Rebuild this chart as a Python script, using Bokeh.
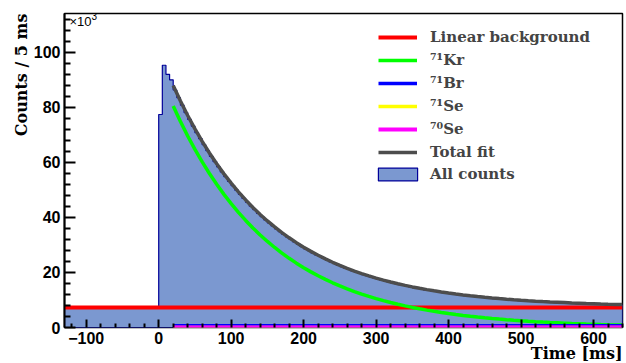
from bokeh.plotting import figure
from bokeh.models import Range1d, FixedTicker, Label, Legend, LegendItem, Title
from bokeh.embed import file_html
from bokeh.resources import INLINE

# ---------------- data (counts in units of 10^3 per 5 ms bin) ----------------
bin_width = 5
x_start, x_end = -130, 640
y_top = 114.1

counts_pre = [7.0, 7.0, 7.0, 7.0, 7.0, 7.0, 7.0, 7.0, 7.0, 7.0, 7.0, 7.0, 7.0,
              7.0, 7.0, 7.0, 7.0, 7.0, 7.0, 7.0, 7.0, 7.0, 7.0, 7.0, 7.0, 7.0]
counts_peak = [77.4, 95.3, 92.0, 90.0]
counts_decay = [
    86.3, 83.5, 80.8, 78.1, 75.6, 73.2, 70.8, 68.6, 66.4, 64.3, 62.2, 60.3,
    58.4, 56.5, 54.8, 53.1, 51.5, 49.9, 48.4, 46.9, 45.5, 44.1, 42.8, 41.5,
    40.3, 39.1, 38.0, 36.9, 35.8, 34.8, 33.8, 32.9, 32.0, 31.1, 30.3, 29.4,
    28.6, 27.9, 27.1, 26.4, 25.8, 25.1, 24.5, 23.8, 23.3, 22.7, 22.1, 21.6,
    21.1, 20.6, 20.1, 19.7, 19.2, 18.8, 18.4, 18.0, 17.6, 17.2, 16.9, 16.5,
    16.2, 15.9, 15.6, 15.3, 15.0, 14.7, 14.5, 14.2, 14.0, 13.7, 13.5, 13.3,
    13.1, 12.9, 12.7, 12.5, 12.3, 12.1, 11.9, 11.8, 11.6, 11.5, 11.3, 11.2,
    11.0, 10.9, 10.8, 10.6, 10.5, 10.4, 10.3, 10.2, 10.1, 10.0, 9.9, 9.8,
    9.7, 9.6, 9.5, 9.5, 9.4, 9.3, 9.2, 9.2, 9.1, 9.0, 9.0, 8.9,
    8.9, 8.8, 8.8, 8.7, 8.7, 8.6, 8.6, 8.5, 8.5, 8.4, 8.4, 8.3,
    8.3, 8.3, 8.2, 8.2]

fit_t = [20, 30, 40, 50, 60, 70, 80, 90, 100, 110, 120, 130, 140, 150, 160,
         170, 180, 190, 200, 210, 220, 230, 240, 250, 260, 270, 280, 290, 300,
         310, 320, 330, 340, 350, 360, 370, 380, 390, 400, 410, 420, 430, 440,
         450, 460, 470, 480, 490, 500, 510, 520, 530, 540, 550, 560, 570, 580,
         590, 600, 610, 620, 630, 640]
kr71 = [80.5, 74.85, 69.60, 64.72, 60.18, 55.96, 52.03, 48.38, 44.99, 41.83,
        38.90, 36.17, 33.63, 31.27, 29.08, 27.04, 25.14, 23.38, 21.74, 20.21,
        18.80, 17.48, 16.25, 15.11, 14.05, 13.07, 12.15, 11.30, 10.51, 9.77,
        9.08, 8.45, 7.85, 7.30, 6.79, 6.31, 5.87, 5.46, 5.08, 4.72, 4.39, 4.08,
        3.79, 3.53, 3.28, 3.05, 2.84, 2.64, 2.45, 2.28, 2.12, 1.97, 1.83, 1.71,
        1.59, 1.47, 1.37, 1.27, 1.19, 1.10, 1.02, 0.95, 0.89]
bg_x = [-130, 640]
bg_y = [7.3, 7.3]
br71_level = 0.6
se71_level = 0.0
se70_level = 0.0

x_major = [-100, 0, 100, 200, 300, 400, 500, 600]
x_minor = [-120, -80, -60, -40, -20, 20, 40, 60, 80, 120, 140, 160, 180, 220,
           240, 260, 280, 320, 340, 360, 380, 420, 440, 460, 480, 520, 540,
           560, 580, 620, 640]
y_major = [0, 20, 40, 60, 80, 100]
y_minor = [4, 8, 12, 16, 24, 28, 32, 36, 44, 48, 52, 56, 64, 68, 72, 76, 84,
           88, 92, 96, 104, 108, 112]

# ---------------- derived ----------------
counts = counts_pre + counts_peak + counts_decay
hx, hy = [x_start], [0.0]
for i, c in enumerate(counts):
    e0 = x_start + i * bin_width
    hx += [e0, e0 + bin_width]
    hy += [c, c]
hx += [x_end]
hy += [0.0]

br71 = [br71_level for _ in fit_t]
se71 = [se71_level for _ in fit_t]
se70 = [se70_level for _ in fit_t]
total = [bg_y[0] + k + 0.25 * b + s1 + s0 for k, b, s1, s0 in zip(kr71, br71, se71, se70)]

SERIF = "DejaVu Serif"
SANS = "Liberation Sans"

p = figure(width=626, height=363, x_range=Range1d(x_start, x_end),
           y_range=Range1d(0, y_top), output_backend="svg",
           toolbar_location=None, min_border_left=64, min_border_right=4,
           min_border_top=13, min_border_bottom=36)
p.grid.visible = False
p.outline_line_color = "black"
p.outline_line_width = 1.5

r_hist = p.patch(hx, hy, fill_color="#7b98d0", line_color="#000099", line_width=1.2)
r_bg = p.line(bg_x, bg_y, line_color="#ff0000", line_width=4)
r_kr = p.line(fit_t, kr71, line_color="#00ff00", line_width=3.5)
r_br = p.line(fit_t, br71, line_color="#0000ff", line_width=3.5)
r_se71 = p.line(fit_t, se71, line_color="#ffff00", line_width=3.5)
r_se70 = p.line(fit_t, se70, line_color="#ff00ff", line_width=4)
r_tot = p.line(fit_t, total, line_color="#4d4d4d", line_width=3.5)

for ax in (p.xaxis[0], p.yaxis[0]):
    ax.axis_line_width = 2
    ax.major_tick_out = 0
    ax.minor_tick_out = 0
    ax.major_tick_line_width = 2
    ax.minor_tick_line_width = 2
    ax.major_label_text_font = SANS
    ax.major_label_text_font_style = "bold"
    ax.major_label_text_font_size = "16px"
    ax.major_label_text_color = "black"

p.xaxis.axis_line_alpha = 0

p.xaxis.ticker = FixedTicker(ticks=x_major, minor_ticks=x_minor)
p.yaxis.ticker = FixedTicker(ticks=y_major, minor_ticks=y_minor)
p.xaxis.major_label_overrides = {-100: "\u2212100"}
p.xaxis.major_tick_in = 8
p.xaxis.minor_tick_in = 4
p.yaxis.major_tick_in = 11
p.yaxis.minor_tick_in = 6
p.xaxis.major_label_standoff = 4
p.yaxis.major_label_standoff = 4

title_style = dict(text_font=SERIF, text_font_style="bold",
                   text_font_size="16px", text_color="black", align="right")
p.add_layout(Title(text="Time [ms]", standoff=-9, **title_style), "below")
p.add_layout(Title(text="Counts / 5 ms", standoff=0, **title_style), "left")

p.add_layout(Label(x=x_start, y=y_top, text="\u00d710", text_baseline="top",
                   x_offset=5, y_offset=0, text_font=SANS,
                   text_font_size="13px", text_color="black"))
p.add_layout(Label(x=x_start, y=y_top, text="3", text_baseline="top",
                   x_offset=27, y_offset=2, text_font=SANS,
                   text_font_size="10px", text_color="black"))

leg_common = dict(padding=0, margin=0, border_line_alpha=0,
                  background_fill_alpha=0, label_text_font=SERIF,
                  label_text_font_style="bold", label_text_font_size="15px",
                  label_height=16, glyph_height=16, spacing=5)
leg = Legend(items=[
    LegendItem(label="Linear background", renderers=[r_bg]),
    LegendItem(label="\u2077\u00b9Kr", renderers=[r_kr]),
    LegendItem(label="\u2077\u00b9Br", renderers=[r_br]),
    LegendItem(label="\u2077\u00b9Se", renderers=[r_se71]),
    LegendItem(label="\u2077\u2070Se", renderers=[r_se70]),
    LegendItem(label="Total fit", renderers=[r_tot]),
], location=(314, 166), glyph_width=39, label_standoff=13, **leg_common)
leg2 = Legend(items=[LegendItem(label="All counts", renderers=[r_hist])],
              location=(309, 144), glyph_width=49, label_standoff=8,
              **leg_common)
p.add_layout(leg)
p.add_layout(leg2)

open("out.html", "w").write(file_html(p, INLINE))
